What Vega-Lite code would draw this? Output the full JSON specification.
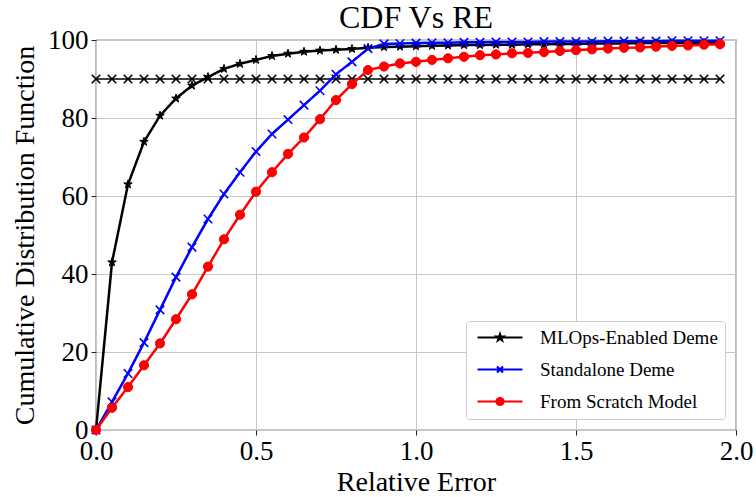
{
  "$schema": "https://vega.github.io/schema/vega-lite/v6.json",
  "width": 640,
  "height": 390,
  "autosize": {"type": "none"},
  "padding": {"left": 96, "top": 40, "right": 20, "bottom": 67},
  "background": "white",
  "title": {"text": "CDF Vs RE", "font": "Liberation Serif", "fontSize": 32, "fontWeight": "normal", "color": "black", "anchor": "middle", "frame": "group", "offset": -9},
  "config": {
    "view": {"stroke": "#222222", "strokeWidth": 1.2},
    "axis": {"labelFont": "Liberation Serif", "titleFont": "Liberation Serif", "labelFontSize": 27, "titleFontSize": 28, "titleFontWeight": "normal", "labelColor": "black", "titleColor": "black", "gridColor": "#c8c8c8", "gridWidth": 1, "tickColor": "#222222", "tickSize": 5, "domain": false, "labelFlush": false}
  },
  "datasets": {
    "curves": [
      {"series": "MLOps-Enabled Deme", "x": 0, "y": 0},
      {"series": "MLOps-Enabled Deme", "x": 0.05, "y": 43},
      {"series": "MLOps-Enabled Deme", "x": 0.1, "y": 63},
      {"series": "MLOps-Enabled Deme", "x": 0.15, "y": 73.9},
      {"series": "MLOps-Enabled Deme", "x": 0.2, "y": 80.6},
      {"series": "MLOps-Enabled Deme", "x": 0.25, "y": 85},
      {"series": "MLOps-Enabled Deme", "x": 0.3, "y": 88.3},
      {"series": "MLOps-Enabled Deme", "x": 0.35, "y": 90.5},
      {"series": "MLOps-Enabled Deme", "x": 0.4, "y": 92.6},
      {"series": "MLOps-Enabled Deme", "x": 0.45, "y": 93.9},
      {"series": "MLOps-Enabled Deme", "x": 0.5, "y": 94.9},
      {"series": "MLOps-Enabled Deme", "x": 0.55, "y": 95.9},
      {"series": "MLOps-Enabled Deme", "x": 0.6, "y": 96.5},
      {"series": "MLOps-Enabled Deme", "x": 0.65, "y": 97.0},
      {"series": "MLOps-Enabled Deme", "x": 0.7, "y": 97.3},
      {"series": "MLOps-Enabled Deme", "x": 0.75, "y": 97.5},
      {"series": "MLOps-Enabled Deme", "x": 0.8, "y": 97.7},
      {"series": "MLOps-Enabled Deme", "x": 0.85, "y": 98.0},
      {"series": "MLOps-Enabled Deme", "x": 0.9, "y": 98.2},
      {"series": "MLOps-Enabled Deme", "x": 0.95, "y": 98.3},
      {"series": "MLOps-Enabled Deme", "x": 1.0, "y": 98.4},
      {"series": "MLOps-Enabled Deme", "x": 1.05, "y": 98.5},
      {"series": "MLOps-Enabled Deme", "x": 1.1, "y": 98.6},
      {"series": "MLOps-Enabled Deme", "x": 1.15, "y": 98.7},
      {"series": "MLOps-Enabled Deme", "x": 1.2, "y": 98.7},
      {"series": "MLOps-Enabled Deme", "x": 1.25, "y": 98.8},
      {"series": "MLOps-Enabled Deme", "x": 1.3, "y": 98.8},
      {"series": "MLOps-Enabled Deme", "x": 1.35, "y": 98.9},
      {"series": "MLOps-Enabled Deme", "x": 1.4, "y": 98.9},
      {"series": "MLOps-Enabled Deme", "x": 1.45, "y": 99.0},
      {"series": "MLOps-Enabled Deme", "x": 1.5, "y": 99.0},
      {"series": "MLOps-Enabled Deme", "x": 1.55, "y": 99.1},
      {"series": "MLOps-Enabled Deme", "x": 1.6, "y": 99.1},
      {"series": "MLOps-Enabled Deme", "x": 1.65, "y": 99.1},
      {"series": "MLOps-Enabled Deme", "x": 1.7, "y": 99.2},
      {"series": "MLOps-Enabled Deme", "x": 1.75, "y": 99.2},
      {"series": "MLOps-Enabled Deme", "x": 1.8, "y": 99.2},
      {"series": "MLOps-Enabled Deme", "x": 1.85, "y": 99.3},
      {"series": "MLOps-Enabled Deme", "x": 1.9, "y": 99.3},
      {"series": "MLOps-Enabled Deme", "x": 1.95, "y": 99.3},
      {"series": "Standalone Deme", "x": 0, "y": 0},
      {"series": "Standalone Deme", "x": 0.05, "y": 7.2},
      {"series": "Standalone Deme", "x": 0.1, "y": 14.5},
      {"series": "Standalone Deme", "x": 0.15, "y": 22.4},
      {"series": "Standalone Deme", "x": 0.2, "y": 30.8},
      {"series": "Standalone Deme", "x": 0.25, "y": 39.2},
      {"series": "Standalone Deme", "x": 0.3, "y": 46.9},
      {"series": "Standalone Deme", "x": 0.35, "y": 54.1},
      {"series": "Standalone Deme", "x": 0.4, "y": 60.5},
      {"series": "Standalone Deme", "x": 0.45, "y": 66.1},
      {"series": "Standalone Deme", "x": 0.5, "y": 71.4},
      {"series": "Standalone Deme", "x": 0.55, "y": 75.9},
      {"series": "Standalone Deme", "x": 0.6, "y": 79.6},
      {"series": "Standalone Deme", "x": 0.65, "y": 83.3},
      {"series": "Standalone Deme", "x": 0.7, "y": 87.0},
      {"series": "Standalone Deme", "x": 0.75, "y": 91.2},
      {"series": "Standalone Deme", "x": 0.8, "y": 94.4},
      {"series": "Standalone Deme", "x": 0.85, "y": 97.8},
      {"series": "Standalone Deme", "x": 0.9, "y": 99.0},
      {"series": "Standalone Deme", "x": 0.95, "y": 99.1},
      {"series": "Standalone Deme", "x": 1.0, "y": 99.2},
      {"series": "Standalone Deme", "x": 1.05, "y": 99.3},
      {"series": "Standalone Deme", "x": 1.1, "y": 99.3},
      {"series": "Standalone Deme", "x": 1.15, "y": 99.4},
      {"series": "Standalone Deme", "x": 1.2, "y": 99.4},
      {"series": "Standalone Deme", "x": 1.25, "y": 99.5},
      {"series": "Standalone Deme", "x": 1.3, "y": 99.5},
      {"series": "Standalone Deme", "x": 1.35, "y": 99.5},
      {"series": "Standalone Deme", "x": 1.4, "y": 99.6},
      {"series": "Standalone Deme", "x": 1.45, "y": 99.6},
      {"series": "Standalone Deme", "x": 1.5, "y": 99.6},
      {"series": "Standalone Deme", "x": 1.55, "y": 99.6},
      {"series": "Standalone Deme", "x": 1.6, "y": 99.7},
      {"series": "Standalone Deme", "x": 1.65, "y": 99.7},
      {"series": "Standalone Deme", "x": 1.7, "y": 99.7},
      {"series": "Standalone Deme", "x": 1.75, "y": 99.7},
      {"series": "Standalone Deme", "x": 1.8, "y": 99.8},
      {"series": "Standalone Deme", "x": 1.85, "y": 99.8},
      {"series": "Standalone Deme", "x": 1.9, "y": 99.8},
      {"series": "Standalone Deme", "x": 1.95, "y": 99.8},
      {"series": "From Scratch Model", "x": 0, "y": 0},
      {"series": "From Scratch Model", "x": 0.05, "y": 5.7},
      {"series": "From Scratch Model", "x": 0.1, "y": 11.0},
      {"series": "From Scratch Model", "x": 0.15, "y": 16.6},
      {"series": "From Scratch Model", "x": 0.2, "y": 22.2},
      {"series": "From Scratch Model", "x": 0.25, "y": 28.4},
      {"series": "From Scratch Model", "x": 0.3, "y": 34.8},
      {"series": "From Scratch Model", "x": 0.35, "y": 41.9},
      {"series": "From Scratch Model", "x": 0.4, "y": 48.9},
      {"series": "From Scratch Model", "x": 0.45, "y": 55.2},
      {"series": "From Scratch Model", "x": 0.5, "y": 61.1},
      {"series": "From Scratch Model", "x": 0.55, "y": 66.1},
      {"series": "From Scratch Model", "x": 0.6, "y": 70.8},
      {"series": "From Scratch Model", "x": 0.65, "y": 75.0},
      {"series": "From Scratch Model", "x": 0.7, "y": 79.7},
      {"series": "From Scratch Model", "x": 0.75, "y": 84.6},
      {"series": "From Scratch Model", "x": 0.8, "y": 88.7},
      {"series": "From Scratch Model", "x": 0.85, "y": 92.3},
      {"series": "From Scratch Model", "x": 0.9, "y": 93.2},
      {"series": "From Scratch Model", "x": 0.95, "y": 94.0},
      {"series": "From Scratch Model", "x": 1.0, "y": 94.4},
      {"series": "From Scratch Model", "x": 1.05, "y": 94.9},
      {"series": "From Scratch Model", "x": 1.1, "y": 95.3},
      {"series": "From Scratch Model", "x": 1.15, "y": 95.7},
      {"series": "From Scratch Model", "x": 1.2, "y": 96.1},
      {"series": "From Scratch Model", "x": 1.25, "y": 96.3},
      {"series": "From Scratch Model", "x": 1.3, "y": 96.6},
      {"series": "From Scratch Model", "x": 1.35, "y": 96.7},
      {"series": "From Scratch Model", "x": 1.4, "y": 96.9},
      {"series": "From Scratch Model", "x": 1.45, "y": 97.2},
      {"series": "From Scratch Model", "x": 1.5, "y": 97.4},
      {"series": "From Scratch Model", "x": 1.55, "y": 97.6},
      {"series": "From Scratch Model", "x": 1.6, "y": 97.8},
      {"series": "From Scratch Model", "x": 1.65, "y": 98.0},
      {"series": "From Scratch Model", "x": 1.7, "y": 98.1},
      {"series": "From Scratch Model", "x": 1.75, "y": 98.3},
      {"series": "From Scratch Model", "x": 1.8, "y": 98.5},
      {"series": "From Scratch Model", "x": 1.85, "y": 98.6},
      {"series": "From Scratch Model", "x": 1.9, "y": 98.8},
      {"series": "From Scratch Model", "x": 1.95, "y": 98.9}
    ],
    "threshold": [
      {"x": 0, "y": 90}, {"x": 0.05, "y": 90}, {"x": 0.1, "y": 90}, {"x": 0.15, "y": 90},
      {"x": 0.2, "y": 90}, {"x": 0.25, "y": 90}, {"x": 0.3, "y": 90}, {"x": 0.35, "y": 90},
      {"x": 0.4, "y": 90}, {"x": 0.45, "y": 90}, {"x": 0.5, "y": 90}, {"x": 0.55, "y": 90},
      {"x": 0.6, "y": 90}, {"x": 0.65, "y": 90}, {"x": 0.7, "y": 90}, {"x": 0.75, "y": 90},
      {"x": 0.8, "y": 90}, {"x": 0.85, "y": 90}, {"x": 0.9, "y": 90}, {"x": 0.95, "y": 90},
      {"x": 1.0, "y": 90}, {"x": 1.05, "y": 90}, {"x": 1.1, "y": 90}, {"x": 1.15, "y": 90},
      {"x": 1.2, "y": 90}, {"x": 1.25, "y": 90}, {"x": 1.3, "y": 90}, {"x": 1.35, "y": 90},
      {"x": 1.4, "y": 90}, {"x": 1.45, "y": 90}, {"x": 1.5, "y": 90}, {"x": 1.55, "y": 90},
      {"x": 1.6, "y": 90}, {"x": 1.65, "y": 90}, {"x": 1.7, "y": 90}, {"x": 1.75, "y": 90},
      {"x": 1.8, "y": 90}, {"x": 1.85, "y": 90}, {"x": 1.9, "y": 90}, {"x": 1.95, "y": 90}
    ]
  },
  "encoding": {
    "x": {"field": "x", "type": "quantitative", "scale": {"domain": [0, 2], "nice": false, "zero": false}, "axis": {"title": "Relative Error", "values": [0, 0.5, 1, 1.5, 2], "format": ".1f", "labelPadding": 3, "titlePadding": 4}},
    "y": {"field": "y", "type": "quantitative", "scale": {"domain": [0, 100], "nice": false}, "axis": {"title": "Cumulative Distribution Function", "values": [0, 20, 40, 60, 80, 100], "labelPadding": 3, "titlePadding": 8}}
  },
  "layer": [
    {
      "data": {"name": "threshold"},
      "mark": {"type": "line", "color": "black", "strokeWidth": 1.5}
    },
    {
      "data": {"name": "threshold"},
      "mark": {"type": "point", "shape": "M-1,-1L1,1M-1,1L1,-1", "size": 72, "filled": false, "stroke": "black", "strokeWidth": 1.6, "opacity": 1}
    },
    {
      "data": {"name": "curves"},
      "mark": {"type": "line", "strokeWidth": 2.5},
      "encoding": {
        "color": {
          "field": "series", "type": "nominal", "sort": null,
          "scale": {"domain": ["MLOps-Enabled Deme", "Standalone Deme", "From Scratch Model"], "range": ["black", "#0000ff", "#ff0000"]},
          "legend": {
            "title": null, "orient": "bottom-right", "offset": 11,
            "labelFont": "Liberation Serif", "labelFontSize": 19, "labelColor": "black", "labelLimit": 400,
            "symbolSize": 100, "labelOffset": 48, "padding": 7, "rowPadding": 12,
            "strokeColor": "#cccccc", "fillColor": "white", "cornerRadius": 3,
            "encode": {
              "symbols": {"update": {
                "shape": {"signal": "datum.value === 'MLOps-Enabled Deme' ? 'M-1,0H8M3.5,-0.65L3.647,-0.202L4.118,-0.201L3.738,0.077L3.882,0.526L3.5,0.25L3.118,0.526L3.262,0.077L2.882,-0.201L3.353,-0.202Z' : datum.value === 'Standalone Deme' ? 'M-1,0H8M2.9,-0.6L4.1,0.6M2.9,0.6L4.1,-0.6' : 'M-1,0H8M4.2,0A0.7,0.7,0,1,1,2.8,0A0.7,0.7,0,1,1,4.2,0Z'"},
                "strokeWidth": {"value": 2.2},
                "stroke": {"signal": "scale('color', datum.value)"},
                "fill": {"signal": "datum.value === 'Standalone Deme' ? 'transparent' : scale('color', datum.value)"},
                "opacity": {"value": 1}
              }}
            }
          }
        }
      }
    },
    {
      "data": {"name": "curves"},
      "transform": [{"filter": {"field": "series", "equal": "MLOps-Enabled Deme"}}],
      "mark": {"type": "point", "shape": "M0,-1L0.225,-0.309L0.951,-0.309L0.363,0.118L0.588,0.809L0,0.382L-0.588,0.809L-0.363,0.118L-0.951,-0.309L-0.225,-0.309Z", "size": 80, "filled": true, "color": "black", "stroke": "black", "strokeWidth": 1, "opacity": 1}
    },
    {
      "data": {"name": "curves"},
      "transform": [{"filter": {"field": "series", "equal": "Standalone Deme"}}],
      "mark": {"type": "point", "shape": "M-1,-1L1,1M-1,1L1,-1", "size": 72, "filled": false, "stroke": "#0000ff", "strokeWidth": 1.6, "opacity": 1}
    },
    {
      "data": {"name": "curves"},
      "transform": [{"filter": {"field": "series", "equal": "From Scratch Model"}}],
      "mark": {"type": "point", "shape": "circle", "size": 85, "filled": true, "color": "#ff0000", "stroke": "#ff0000", "strokeWidth": 1, "opacity": 1}
    }
  ]
}
